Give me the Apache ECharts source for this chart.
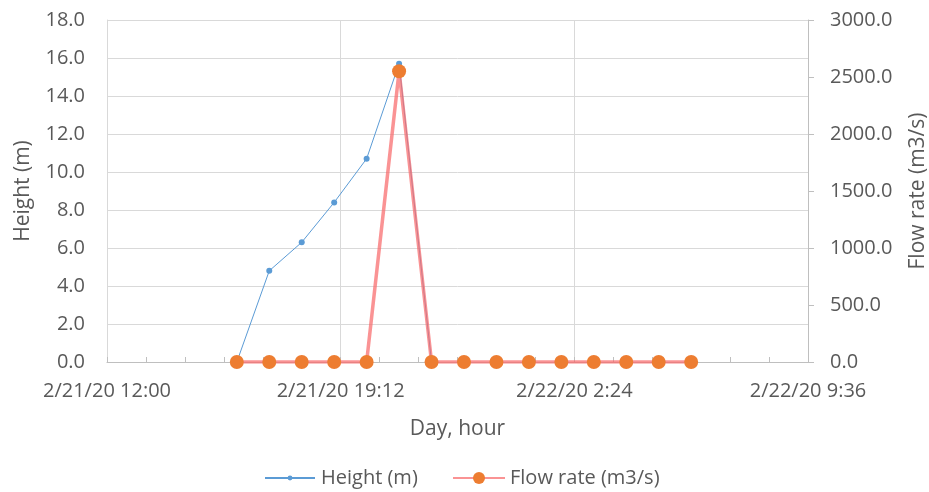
<!DOCTYPE html>
<html><head><meta charset="utf-8">
<script src="https://cdn.jsdelivr.net/npm/echarts@6/dist/echarts.min.js"></script>
<style>html,body{margin:0;padding:0;background:#fff}#c{width:929px;height:492px}</style>
</head><body><div id="c"></div>
<script>
// Times (hours after 2/21/20 12:00)
const heightTimes = [4, 5, 6, 7, 8, 9, 10]; // 16:00 .. 22:00
const heightValues = [0.0, 4.8, 6.3, 8.4, 10.7, 15.7, 0.0];
const flowTimes = [4, 5, 6, 7, 8, 9, 10, 11, 12, 13, 14, 15, 16, 17, 18]; // 16:00 .. 6:00
const flowValues = [0, 0, 0, 0, 0, 2550, 0, 0, 0, 0, 0, 0, 0, 0, 0];
const xTickLabels = ['2/21/20 12:00', '2/21/20 19:12', '2/22/20 2:24', '2/22/20 9:36'];
const leftTicks = [0, 18, 2];
const rightTicks = [0, 3000, 500];

const toMin = h => h * 60;
const hData = heightTimes.map((t, i) => [toMin(t), heightValues[i]]);
const fData = flowTimes.map((t, i) => [toMin(t), flowValues[i]]);

const txt = '#595959';
const font = 'Open Sans';
const chart = echarts.init(document.getElementById('c'));
chart.setOption({
  animation: false,
  textStyle: { fontFamily: font },
  grid: { left: 107, right: 121, top: 20, bottom: 130, outerBoundsMode: 'none', containLabel: false },
  legend: [{
    top: 463, left: 259, itemWidth: 50, itemHeight: 6,
    textStyle: { color: txt, fontSize: 20, fontFamily: font, padding: [0, 0, 0, 1] },
    data: ['Height (m)']
  }, {
    top: 463, left: 447, itemWidth: 52, itemHeight: 15,
    textStyle: { color: txt, fontSize: 20, fontFamily: font },
    data: ['Flow rate (m3/s)']
  }],
  xAxis: {
    type: 'value', min: 0, max: 1296, interval: 432,
    name: 'Day, hour', nameLocation: 'middle', nameGap: 57,
    nameTextStyle: { color: txt, fontSize: 21 },
    axisLine: { show: true, lineStyle: { color: '#bfbfbf', width: 1 } },
    axisTick: { show: true, inside: true, length: 5, lineStyle: { color: '#bfbfbf' } },
    minorTick: { show: true, splitNumber: 6, length: 5, lineStyle: { color: '#bfbfbf' } },
    axisLabel: { color: txt, fontSize: 20, margin: 19,
      formatter: v => xTickLabels[Math.round(v / 432)] },
    splitLine: { show: true, lineStyle: { color: '#d9d9d9', width: 1 } }
  },
  yAxis: [{
    type: 'value', min: leftTicks[0], max: leftTicks[1], interval: leftTicks[2],
    name: 'Height (m)', nameLocation: 'middle', nameGap: 73,
    nameTextStyle: { color: txt, fontSize: 21 },
    axisLine: { show: true, lineStyle: { color: '#d9d9d9' } },
    axisTick: { show: false },
    axisLabel: { color: txt, fontSize: 20, margin: 22, formatter: v => v.toFixed(1) },
    splitLine: { show: true, lineStyle: { color: '#d9d9d9', width: 1 } }
  }, {
    type: 'value', min: rightTicks[0], max: rightTicks[1], interval: rightTicks[2],
    position: 'right',
    name: 'Flow rate (m3/s)', nameLocation: 'middle', nameGap: 100, nameRotate: 90,
    nameTextStyle: { color: txt, fontSize: 21 },
    axisLine: { show: true, lineStyle: { color: '#bfbfbf' } },
    axisTick: { show: true, length: 6, lineStyle: { color: '#bfbfbf' } },
    axisLabel: { color: txt, fontSize: 20, margin: 22, formatter: v => v.toFixed(1) },
    splitLine: { show: false }
  }],
  series: [{
    name: 'Height (m)', type: 'line', yAxisIndex: 0, data: hData,
    symbol: 'circle', symbolSize: 6, z: 2,
    itemStyle: { color: '#5b9bd5' },
    lineStyle: { color: '#5b9bd5', width: 1 }
  }, {
    name: 'Flow rate (m3/s)', type: 'line', yAxisIndex: 1, data: fData,
    symbol: 'circle', symbolSize: 14, z: 3,
    itemStyle: { color: '#ed7d31' },
    lineStyle: { color: '#f8696b', width: 3.5, opacity: 0.72 }
  }]
});
</script></body></html>
